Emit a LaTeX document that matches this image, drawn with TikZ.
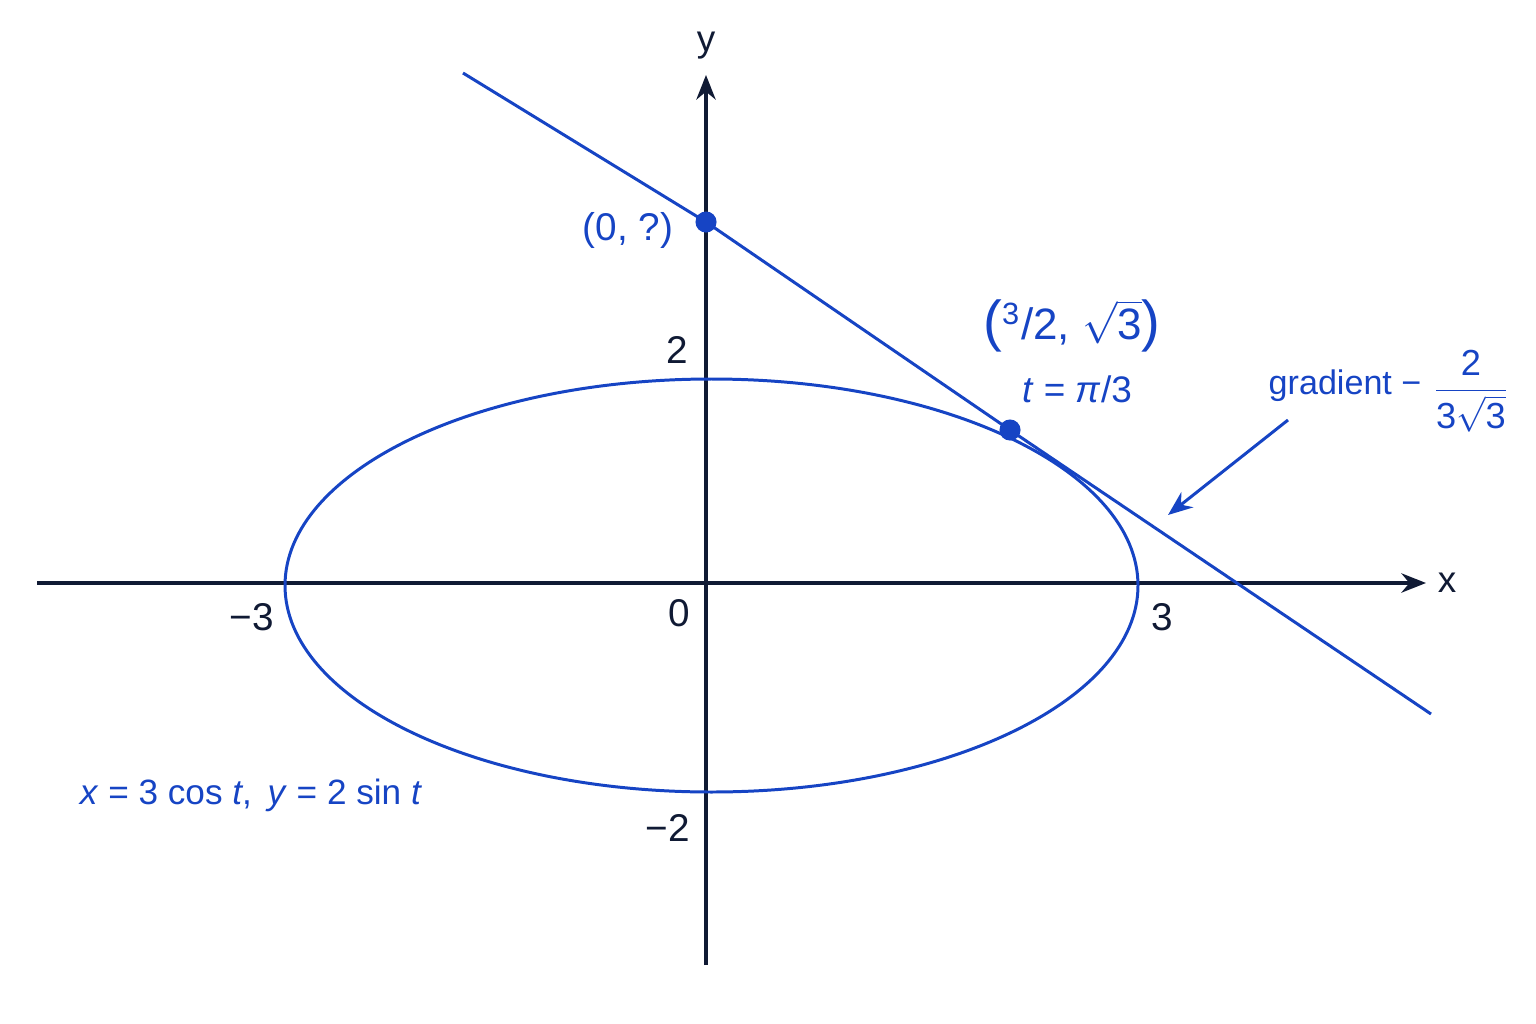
\documentclass[tikz,border=0pt]{standalone}
\usepackage{fontspec}
\setmainfont{Liberation Sans}
\usetikzlibrary{arrows.meta}
\definecolor{cblue}{RGB}{22,68,196}
\definecolor{navy}{RGB}{16,26,52}
\tikzset{
  axis/.style={draw=navy, line width=0.9pt, -{Stealth[length=7pt,width=5.5pt]}},
  curve/.style={draw=cblue, line width=0.85pt},
  dot/.style={circle, fill=cblue, inner sep=0pt, minimum size=6pt},
  tick/.style={text=navy, font=\fontsize{11}{13}\selectfont, inner sep=0pt},
  lab/.style={text=cblue, inner sep=0pt},
}
\begin{document}
\begin{tikzpicture}[x=0.01cm, y=-0.01cm]
\useasboundingbox (0,0) rectangle (1536,1024);
% axes
\coordinate (xl) at (37,583);
\coordinate (xr) at (1426,583);
\coordinate (yb) at (706,965);
\coordinate (yt) at (706,75);
\draw[axis] (xl) -- (xr);
\draw[axis] (yb) -- (yt);
\node[tick, font=\fontsize{10.5}{12}\selectfont] (xlab) at (1447,583) {x};
\node[tick, font=\fontsize{10.5}{12}\selectfont] (ylab) at (706,46) {y};
% tick labels
\node[tick] (t2) at (677,350) {2};
\node[tick] (tm2) at (668,828) {−2};
\node[tick] (tm3) at (252,617) {−3};
\node[tick] (t0) at (679,613) {0};
\node[tick] (t3) at (1162,617) {3};
% ellipse
\draw[curve] (711.5,585.5) ellipse [x radius=426.5, y radius=206.5];
% tangent line
\node[dot] (p0) at (706,222) {};
\node[dot] (p1) at (1010,430) {};
\coordinate (la) at (463,73);
\coordinate (lb) at (1431,714);
\draw[curve, line join=round] (la) -- (p0.center) -- (p1.center) -- (lb);
% labels
\node[lab, font=\fontsize{11}{13}\selectfont] (l0) at (628,230) {(0, ?)};
\node[lab, font=\fontsize{12.5}{15}\selectfont] (l1) at (1072,326) {{\fontsize{16}{16}\selectfont\raisebox{-0.3pt}{(}}\textsuperscript{3}/2, $\sqrt{\mbox{3}}${\fontsize{16}{16}\selectfont\raisebox{-0.3pt}{)}}};
\node[lab, font=\fontsize{10.5}{12}\selectfont] (l2) at (1077,389) {\textit{t} = \textit{π}/3};
\node[lab, font=\fontsize{9.7}{11}\selectfont, anchor=west] (l3) at (1268,386) {gradient − };
\node[lab, font=\fontsize{10.3}{12}\selectfont] (l3f) at (1471,391) {$\displaystyle\frac{\mbox{2}}{\mbox{3}\sqrt{\mbox{3}}}$};
\node[lab, font=\fontsize{10}{12}\selectfont] (l4) at (251,795) {\textit{x} = 3 cos \textit{t},\, \textit{y} = 2 sin \textit{t}};
% gradient arrow
\coordinate (ga) at (1288,420);
\coordinate (gb) at (1168,515);
\draw[curve, -{Stealth[length=7pt,width=5.5pt]}] (ga) -- (gb);
\end{tikzpicture}
\end{document}
